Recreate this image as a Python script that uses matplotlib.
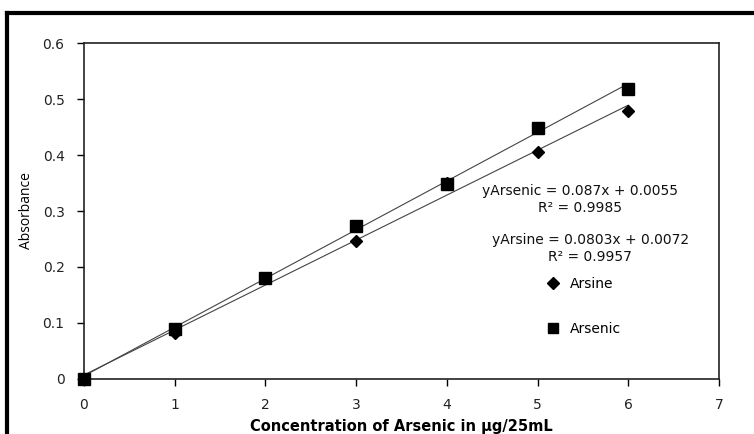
import matplotlib.pyplot as plt
from matplotlib.lines import Line2D

# concentration (ug/25mL) and absorbance readings
conc = [0, 1, 2, 3, 4, 5, 6]
arsenic = [0.0, 0.090, 0.180, 0.274, 0.349, 0.449, 0.518]
arsine = [0.0, 0.082, 0.180, 0.246, 0.350, 0.405, 0.478]

# linear fits as reported on the chart
fit_arsenic = (0.087, 0.0055, 0.9985)
fit_arsine = (0.0803, 0.0072, 0.9957)

x_ticks = [0, 1, 2, 3, 4, 5, 6, 7]
y_ticks = [0, 0.1, 0.2, 0.3, 0.4, 0.5, 0.6]

fig = plt.figure(figsize=(7.54, 4.34), dpi=100)
ax = fig.add_axes([84 / 754, 1 - 379 / 434, 635 / 754, 336 / 434])

# trend lines
for slope, icpt, _ in (fit_arsenic, fit_arsine):
    xs = [conc[0], conc[-1]]
    ax.plot(xs, [slope * v + icpt for v in xs], color='#444444', lw=0.8, zorder=2)

ax.plot(conc, arsine, 'D', color='black', ms=6.3, ls='none', zorder=3, clip_on=False)
ax.plot(conc, arsenic, 's', color='black', ms=8, ls='none', zorder=3, clip_on=False)

ax.set_xlim(0, 7)
ax.set_ylim(0, 0.6)
ax.set_xticks(x_ticks)
ax.set_yticks(y_ticks)
ax.set_yticklabels(['0' if v == 0 else f'{v:.1f}' for v in y_ticks])
ax.tick_params(axis='both', labelsize=10, colors='black', labelcolor='#222222', length=5, width=1)
ax.tick_params(axis='y', pad=9)
ax.tick_params(axis='x', pad=9)
for sp in ax.spines.values():
    sp.set_linewidth(1.2)
    sp.set_color('#222222')

ax.set_xlabel('Concentration of Arsenic in μg/25mL', fontsize=10.5, fontweight='bold', labelpad=5)
ax.set_ylabel('Absorbance', fontsize=10, family='Open Sans', labelpad=6)

eq = dict(fontsize=10, ha='center', va='center', color='#111111')
ax.text(5.47, 0.336, f'yArsenic = {fit_arsenic[0]}x + {fit_arsenic[1]}', **eq)
ax.text(5.47, 0.306, f'R² = {fit_arsenic[2]}', **eq)
ax.text(5.58, 0.249, f'yArsine = {fit_arsine[0]}x + {fit_arsine[1]}', **eq)
ax.text(5.58, 0.218, f'R² = {fit_arsine[2]}', **eq)

handles = [Line2D([], [], marker='D', color='black', ls='none', ms=6),
           Line2D([], [], marker='s', color='black', ls='none', ms=7)]
ax.legend(handles, ['Arsine', 'Arsenic'], loc='upper left', bbox_to_anchor=(0.706, 0.34),
          frameon=False, fontsize=10, labelspacing=2.2, handletextpad=0.6, handlelength=1.2)

# outer frame (top and left edges visible)
fig.add_artist(Line2D([7 / 754, 7 / 754], [0, 1 - 13 / 434], color='black', lw=3))
fig.add_artist(Line2D([7 / 754, 1], [1 - 13 / 434, 1 - 13 / 434], color='black', lw=3))

fig.savefig('out.png', dpi=100)
